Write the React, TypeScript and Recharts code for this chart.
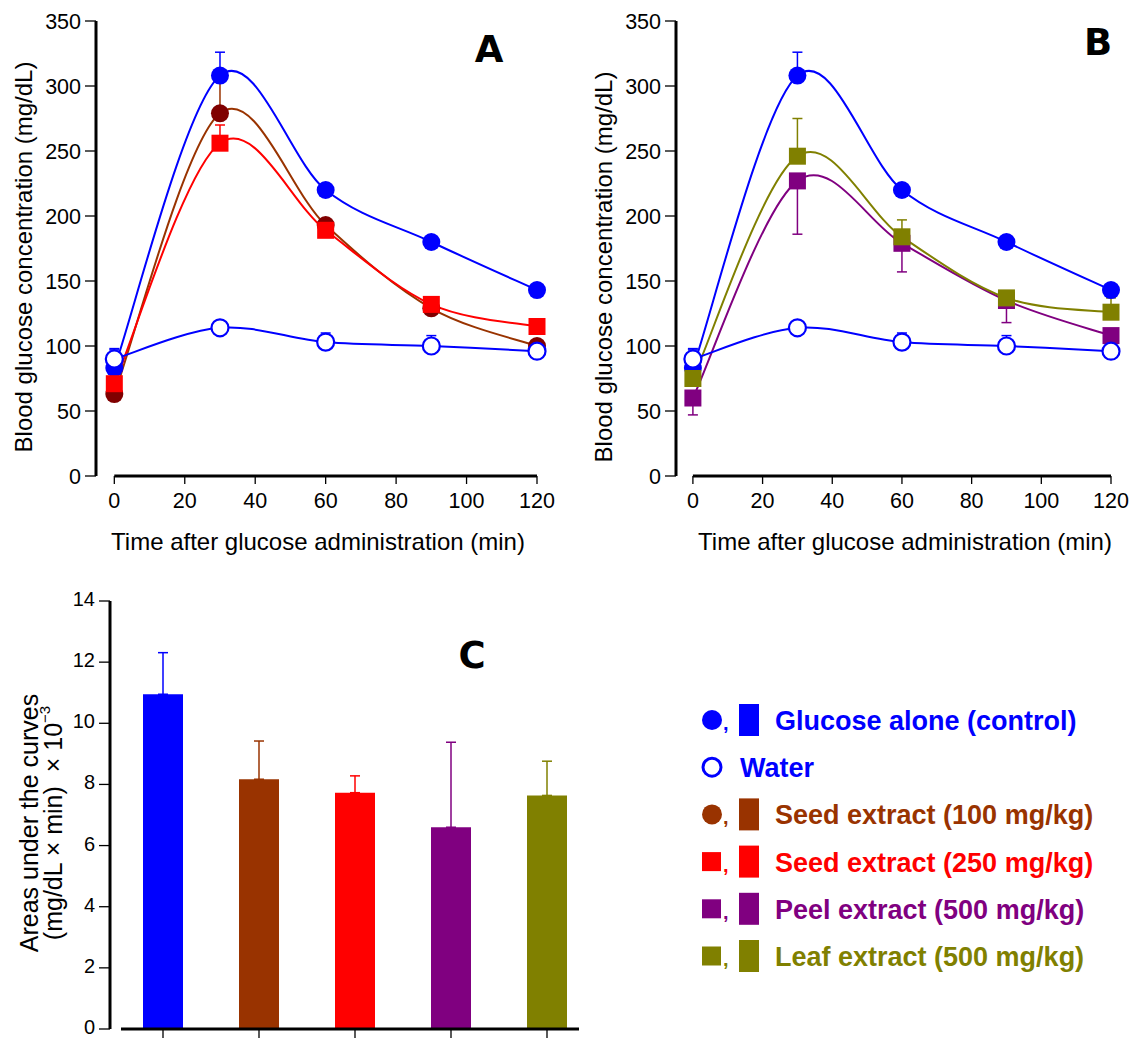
import { LineChart, Line, XAxis, YAxis, ErrorBar, BarChart, Bar } from "recharts";

const FONT = "'Liberation Sans', Arial, Helvetica, sans-serif";
const LETTER_FONT = "'DejaVu Sans', Verdana, sans-serif";

const BLUE = "#0000ff";
const BROWN = "#993300";
const MAROON = "#800000";
const RED = "#ff0000";
const PURPLE = "#800080";
const OLIVE = "#808000";

// sampling times (min) and axis ticks
const times = [0, 30, 60, 90, 120];
const timeTicks = [0, 20, 40, 60, 80, 100, 120];
const glucoseTicks = [0, 50, 100, 150, 200, 250, 300, 350];
const aucTicks = [0, 2, 4, 6, 8, 10, 12, 14];

// blood glucose (mg/dL), mean and SEM
const control = [83, 308, 220, 180, 143];
const controlSem = [14, 18, 4, 4, 4];
const water = [90, 114, 103, 100, 96];
const waterSem = [8, 4, 7, 8, 3];
const seed100 = [63, 279, 193, 129, 100];
const seed100Sem = [5, 26, 4, 3, 3];
const seed250 = [71, 256, 189, 132, 115];
const seed250Sem = [5, 14, 4, 4, 3];
const peel = [60, 227, 179, 135, 108];
const peelSem = [13, 41, 22, 17, 4];
const leaf = [75, 246, 184, 137, 126];
const leafSem = [5, 29, 13, 4, 11];

// areas under the curves (x 10^-3)
const groups = ["control", "seed100", "seed250", "peel", "leaf"];
const groupColors = [BLUE, BROWN, RED, PURPLE, OLIVE];
const aucMean = [10.95, 8.17, 7.73, 6.6, 7.64];
const aucSem = [1.36, 1.25, 0.55, 2.78, 1.12];

const legendItems = [
  { label: "Glucose alone (control)", color: BLUE, marker: "circle", bar: true },
  { label: "Water", color: BLUE, marker: "open", bar: false },
  { label: "Seed extract (100 mg/kg)", color: BROWN, marker: "circle", bar: true },
  { label: "Seed extract (250 mg/kg)", color: RED, marker: "square", bar: true },
  { label: "Peel extract (500 mg/kg)", color: PURPLE, marker: "square", bar: true },
  { label: "Leaf extract (500 mg/kg)", color: OLIVE, marker: "square", bar: true },
];

const up = (e: number) => [0, e];
const down = (e: number) => [e, 0];

const rows = times.map((t, i) => ({
  t,
  control: control[i],
  controlE: up(controlSem[i]),
  water: water[i],
  waterE: up(waterSem[i]),
  seed100: seed100[i],
  seed100E: up(seed100Sem[i]),
  seed250: seed250[i],
  seed250E: up(seed250Sem[i]),
  peel: peel[i],
  peelE: down(peelSem[i]),
  leaf: leaf[i],
  leafE: up(leafSem[i]),
}));

const aucRows = groups.map((g, i) => {
  const row: Record<string, any> = { name: g };
  groups.forEach((k, j) => {
    row[k] = j === i ? aucMean[i] : 0;
    if (j === i) row[k + "E"] = [0, aucSem[i]];
  });
  return row;
});

// uniform Catmull-Rom spline, passes through every point
const catmullRom = (context: any) => {
  let pts: number[][] = [];
  return {
    areaStart() {},
    areaEnd() {},
    lineStart() {
      pts = [];
    },
    point(x: number, y: number) {
      pts.push([+x, +y]);
    },
    lineEnd() {
      const n = pts.length;
      if (!n) return;
      context.moveTo(pts[0][0], pts[0][1]);
      for (let i = 0; i < n - 1; i++) {
        const p0 = pts[i - 1] || pts[i];
        const p1 = pts[i];
        const p2 = pts[i + 1];
        const p3 = pts[i + 2] || p2;
        context.bezierCurveTo(
          p1[0] + (p2[0] - p0[0]) / 6,
          p1[1] + (p2[1] - p0[1]) / 6,
          p2[0] - (p3[0] - p1[0]) / 6,
          p2[1] - (p3[1] - p1[1]) / 6,
          p2[0],
          p2[1]
        );
      }
    },
  };
};

const dotCircle = (fill: string) => (p: any) => (
  <circle key={`c-${p.index}`} cx={p.cx} cy={p.cy} r={9} fill={fill} />
);
const dotOpen = (stroke: string) => (p: any) => (
  <circle key={`o-${p.index}`} cx={p.cx} cy={p.cy} r={8.5} fill="#fff" stroke={stroke} strokeWidth={2.2} />
);
const dotSquare = (fill: string) => (p: any) => (
  <rect key={`s-${p.index}`} x={p.cx - 8.5} y={p.cy - 8.5} width={17} height={17} fill={fill} />
);

const tickStyle = { fill: "#000", fontSize: 21.5, fontFamily: FONT };

// y tick labels of panel C, nudged up a little so the 0 stays inside the page
const AucTick = (p: any) => (
  <text
    x={p.x}
    y={p.y - 2}
    textAnchor="end"
    dominantBaseline="central"
    fontSize={20}
    fontFamily={FONT}
    fill="#000"
  >
    {p.payload.value}
  </text>
);

function RotTitle({ x, y, size, children }: any) {
  return (
    <text
      transform={`translate(${x},${y}) rotate(-90)`}
      textAnchor="middle"
      dominantBaseline="central"
      fontSize={size}
      fontFamily={FONT}
      fill="#000"
    >
      {children}
    </text>
  );
}

type SeriesDef = {
  key: string;
  line: string;
  dot: (p: any) => any;
};

function GlucosePanel({
  series,
  xMin,
  width,
  right,
  axisGap,
  axisLen,
  xTitleX,
  yTitleY,
}: {
  series: SeriesDef[];
  xMin: number;
  width: number;
  right: number;
  axisGap: number;
  axisLen: number;
  xTitleX: number;
  yTitleY: number;
}) {
  return (
    <LineChart width={width} height={560} data={rows} margin={{ top: 21, right, bottom: 20, left: 0 }}>
      <XAxis
        dataKey="t"
        type="number"
        domain={[xMin, 120]}
        ticks={timeTicks}
        interval={0}
        height={64}
        tick={tickStyle}
        tickSize={8}
        tickMargin={9}
        tickLine={{ stroke: "#000", strokeWidth: 1.3 }}
        axisLine={{ stroke: "#000", strokeWidth: 3, strokeDasharray: `0 ${axisGap} ${axisLen} 2000` }}
        label={{
          content: () => (
            <text
              x={xTitleX}
              y={541}
              textAnchor="middle"
              dominantBaseline="central"
              fontSize={24}
              fontFamily={FONT}
              fill="#000"
            >
              Time after glucose administration (min)
            </text>
          ),
        }}
      />
      <YAxis
        type="number"
        domain={[0, 350]}
        ticks={glucoseTicks}
        interval={0}
        width={96}
        tick={tickStyle}
        tickSize={11}
        tickMargin={4}
        tickLine={{ stroke: "#000", strokeWidth: 1.3 }}
        axisLine={{ stroke: "#000", strokeWidth: 3 }}
        label={{
          content: () => (
            <RotTitle x={23} y={yTitleY} size={24}>
              Blood glucose concentration (mg/dL)
            </RotTitle>
          ),
        }}
      />
      {series.map((s) => (
        <Line
          key={s.key}
          dataKey={s.key}
          type={catmullRom as any}
          stroke={s.line}
          strokeWidth={2}
          dot={s.dot}
          activeDot={false}
          isAnimationActive={false}
        >
          <ErrorBar
            dataKey={s.key + "E"}
            direction="y"
            width={5}
            stroke={s.line}
            strokeWidth={1.5}
            isAnimationActive={false}
          />
        </Line>
      ))}
    </LineChart>
  );
}

const seriesA: SeriesDef[] = [
  { key: "control", line: BLUE, dot: dotCircle(BLUE) },
  { key: "seed100", line: BROWN, dot: dotCircle(MAROON) },
  { key: "seed250", line: RED, dot: dotSquare(RED) },
  { key: "water", line: BLUE, dot: dotOpen(BLUE) },
];

const seriesB: SeriesDef[] = [
  { key: "control", line: BLUE, dot: dotCircle(BLUE) },
  { key: "peel", line: PURPLE, dot: dotSquare(PURPLE) },
  { key: "leaf", line: OLIVE, dot: dotSquare(OLIVE) },
  { key: "water", line: BLUE, dot: dotOpen(BLUE) },
];

function AucPanel() {
  return (
    <BarChart width={620} height={490} data={aucRows} margin={{ top: 41, right: 25, bottom: 0, left: 0 }}>
      <XAxis
        dataKey="name"
        height={21}
        padding={{ left: 5, right: 0 }}
        interval={0}
        tickFormatter={() => ""}
        tickSize={10}
        tickLine={{ stroke: "#000", strokeWidth: 1.3 }}
        axisLine={{ stroke: "#000", strokeWidth: 3, strokeDasharray: "0 11 458 2000" }}
      />
      <YAxis
        type="number"
        domain={[0, 14]}
        ticks={aucTicks}
        interval={0}
        width={110}
        tick={AucTick}
        tickSize={11}
        tickMargin={4}
        tickLine={{ stroke: "#000", strokeWidth: 1.3 }}
        axisLine={{ stroke: "#000", strokeWidth: 3 }}
        label={{
          content: () => (
            <g>
              <RotTitle x={29} y={263} size={25}>
                Areas under the curves
              </RotTitle>
              <RotTitle x={53} y={263} size={25}>
                (mg/dL × min){"\u00a0\u00a0"}× 10
                <tspan dy={-9} fontSize={15}>
                  −3
                </tspan>
              </RotTitle>
            </g>
          ),
        }}
      />
      {groups.map((g, i) => (
        <Bar key={g} dataKey={g} stackId="auc" fill={groupColors[i]} barSize={40} isAnimationActive={false}>
          <ErrorBar
            dataKey={g + "E"}
            direction="y"
            width={5}
            stroke={groupColors[i]}
            strokeWidth={1.5}
            isAnimationActive={false}
          />
        </Bar>
      ))}
    </BarChart>
  );
}

function Overlay() {
  return (
    <svg
      width={1129}
      height={1038}
      style={{ position: "absolute", left: 0, top: 0, pointerEvents: "none" }}
    >
      <g fontFamily={LETTER_FONT} fontWeight="bold" fontSize={37} textAnchor="middle" dominantBaseline="central">
        <text x={489} y={49}>A</text>
        <text x={1098} y={42}>B</text>
        <text x={472} y={655}>C</text>
      </g>
      <g fontFamily={FONT} fontWeight="bold" fontSize={27}>
        {legendItems.map((it, i) => {
          const cy = 720 + i * 47.2;
          return (
            <g key={it.label} fill={it.color}>
              {it.marker === "circle" && <circle cx={712} cy={cy} r={10} fill={it.color} />}
              {it.marker === "open" && (
                <circle cx={712} cy={cy} r={9} fill="#fff" stroke={it.color} strokeWidth={3} />
              )}
              {it.marker === "square" && <rect x={702} y={cy - 9.5} width={19} height={19} fill={it.color} />}
              {it.bar && (
                <>
                  <text x={723} y={cy + 10} fontSize={20}>
                    ,
                  </text>
                  <rect x={739} y={cy - 16} width={20} height={32} fill={it.color} />
                </>
              )}
              <text x={it.bar ? 775 : 740} y={cy + 10}>
                {it.label}
              </text>
            </g>
          );
        })}
      </g>
    </svg>
  );
}

export default function App() {
  return (
    <div style={{ position: "absolute", left: 0, top: 0, width: 1129, height: 1038, background: "#fff", overflow: "hidden" }}>
      <div style={{ position: "absolute", left: 0, top: 0 }}>
        <GlucosePanel
          series={seriesA}
          xMin={-5.2}
          width={560}
          right={23}
          axisGap={18.3}
          axisLen={422.7}
          xTitleX={318}
          yTitleY={257}
        />
      </div>
      <div style={{ position: "absolute", left: 580, top: 0 }}>
        <GlucosePanel
          series={seriesB}
          xMin={-4.85}
          width={549}
          right={18}
          axisGap={16.9}
          axisLen={418.1}
          xTitleX={325}
          yTitleY={267}
        />
      </div>
      <div style={{ position: "absolute", left: 0, top: 560 }}>
        <AucPanel />
      </div>
      <Overlay />
    </div>
  );
}
